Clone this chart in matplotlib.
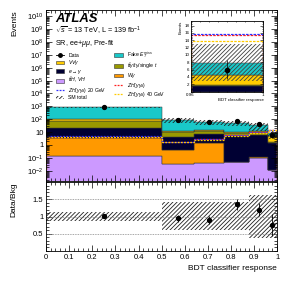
import numpy as np
import matplotlib
matplotlib.use('Agg')
import matplotlib.pyplot as plt
from matplotlib.patches import Patch
from matplotlib.lines import Line2D
from matplotlib.ticker import LogLocator, FuncFormatter, MultipleLocator, NullFormatter, FixedLocator

plt.rcParams['font.family'] = ['Liberation Sans', 'DejaVu Sans']
plt.rcParams['mathtext.fontset'] = 'custom'
plt.rcParams['mathtext.rm'] = 'Liberation Sans'
plt.rcParams['mathtext.it'] = 'Liberation Sans:italic'
plt.rcParams['mathtext.bf'] = 'Liberation Sans:bold'
plt.rcParams['hatch.linewidth'] = 0.6
plt.rcParams['axes.linewidth'] = 0.6

# binning and yields
edges = [0, 0.5, 0.64, 0.77, 0.88, 0.96, 1.0]
data = [840, 84, 56, 70, 39, 6]
data_err = [29, 9, 7.5, 8.5, 6.2, 2.5]

tth_vh = [0.15, 0.035, 0.039, 0.047, 0.09, 0.012]
wgam = [3.2, 0.38, 1.3, 0.002, 0.02, 0.0]
e_gam = [17.5, 4.0, 5.6, 4.8, 5.8, 1.5]
ttgam = [53, 6.2, 5.0, 4.0, 5.0, 0.3]
vvgam = [26, 2.0, 2.0, 1.7, 1.7, 2.8]
fake_met = [724, 76, 48, 41, 20, 3.3]

unc_up = [0.13, 0.42, 0.42, 0.42, 0.63, 0.63]
unc_dn = [0.13, 0.38, 0.38, 0.38, 0.63, 0.63]

sig_red = [4.5, 1.8, 2.7, 5.9, 10.0, 15.3]
sig_blue = [4.6, 1.85, 2.8, 6.0, 10.5, 15.8]
sig_yel = [4.2, 1.7, 2.5, 5.4, 9.2, 13.7]

stack = [
    (tth_vh, '#cc99ff', r'$t\bar{t}H$, $VH$'),
    (wgam, '#ff9900', r'$W\gamma$'),
    (e_gam, '#000033', r'$e\to\gamma$'),
    (ttgam, '#999900', r'$t\bar{t}\gamma$/$t\gamma$/single $t$'),
    (vvgam, '#ffcc00', r'$VV\gamma$'),
    (fake_met, '#19c8c8', r'Fake $E_{T}^{miss}$'),
]
signals = [
    (sig_red, '#ff2020', r'$ZH(\gamma\gamma_{d})$'),
    (sig_blue, '#3030ff', r'$ZH(\gamma\gamma_{d})$ 20 GeV'),
    (sig_yel, '#ffcc00', r'$ZH(\gamma\gamma_{d})$ 40 GeV'),
]

edges_a = np.array(edges)
centers = 0.5 * (edges_a[1:] + edges_a[:-1])
HATCH = '////////'
HCOL = '#202020'


def draw_stack(ax, idx, floor):
    bottom = np.zeros(len(idx))
    for vals, col, lab in stack:
        v = np.array(vals)[idx]
        top = bottom + v
        base = np.where(bottom > 0, bottom, floor)
        ax.stairs(top, edges_a[idx[0]:idx[-1] + 2], baseline=base, fill=True,
                  facecolor=col, edgecolor='#333333', linewidth=0.35)
        bottom = top
    return bottom


def style(ax, size=5.5):
    ax.tick_params(which='both', direction='in', top=True, right=True,
                   labelsize=size, width=0.5, pad=2)
    ax.tick_params(which='major', length=4)
    ax.tick_params(which='minor', length=2)


fig = plt.figure(figsize=(2.92, 2.81), dpi=100)
ax = fig.add_axes([0.158, 0.356, 0.791, 0.608])
rax = fig.add_axes([0.158, 0.107, 0.791, 0.245])

allbins = np.arange(len(data))
tot = draw_stack(ax, allbins, 1e-4)
up = tot * (1 + np.array(unc_up))
dn = tot * (1 - np.array(unc_dn))
ax.stairs(up, edges_a, baseline=dn, fill=True, facecolor='none',
          edgecolor=HCOL, hatch=HATCH, linewidth=0)
for vals, col, lab in signals:
    ax.stairs(vals, edges_a, color=col, linestyle=(0, (1.5, 1)), linewidth=0.9)
ax.errorbar(centers, data, yerr=data_err, fmt='o', color='k', markersize=2.8,
            elinewidth=0.6, capsize=0)

ax.set_yscale('log')
ax.set_ylim(1.6e-3, 3e10)
ax.set_xlim(0, 1)
ax.yaxis.set_major_locator(LogLocator(base=10, numticks=20))
ax.yaxis.set_minor_locator(LogLocator(base=10, subs=np.arange(2, 10), numticks=20))
ax.yaxis.set_minor_formatter(NullFormatter())


def logfmt(v, pos):
    n = int(round(np.log10(v)))
    if n == 0:
        return '1'
    if n == 1:
        return '10'
    return r'$10^{%d}$' % n


ax.yaxis.set_major_formatter(FuncFormatter(logfmt))
ax.xaxis.set_major_locator(MultipleLocator(0.1))
ax.xaxis.set_minor_locator(MultipleLocator(0.02))
ax.set_xticklabels([])
style(ax)
ax.set_ylabel('Events', fontsize=6, loc='top')
ax.yaxis.set_label_coords(-0.12, 1.0)

ax.text(0.04, 0.985, 'ATLAS', transform=ax.transAxes, fontsize=9.4,
        fontweight='bold', fontstyle='italic', va='top')
ax.text(0.04, 0.88, r'$\sqrt{s}$ = 13 TeV, L = 139 fb$^{-1}$', transform=ax.transAxes,
        fontsize=5.2, va='center')
ax.text(0.04, 0.805, r'SR, ee+$\mu\mu$, Pre-fit', transform=ax.transAxes,
        fontsize=5.2, va='center')

handles = {}
handles['data'] = Line2D([], [], marker='o', color='k', markersize=2.5, linestyle='-', linewidth=0.6)
for vals, col, lab in stack:
    handles[lab] = Patch(facecolor=col, edgecolor='#333333', linewidth=0.4)
for vals, col, lab in signals:
    handles[lab] = Line2D([], [], color=col, linestyle=(0, (1.5, 1)), linewidth=0.9)
handles['sm'] = Patch(facecolor='white', edgecolor=HCOL, hatch=HATCH, linewidth=0)

order = [('data', 'Data'), (stack[4][2], stack[4][2]), (stack[2][2], stack[2][2]),
         (stack[0][2], stack[0][2]), (signals[1][2], signals[1][2]), ('sm', 'SM total'),
         (stack[5][2], stack[5][2]), (stack[3][2], stack[3][2]), (stack[1][2], stack[1][2]),
         (signals[0][2], signals[0][2]), (signals[2][2], signals[2][2])]
ax.legend([handles[k] for k, l in order], [l for k, l in order], ncol=2,
          loc='upper left', bbox_to_anchor=(0.025, 0.79), fontsize=3.7, frameon=False,
          handlelength=1.7, handleheight=0.7, labelspacing=0.08, columnspacing=1.5,
          handletextpad=0.8, borderpad=0.2)

# inset: last bin in linear scale
iax = fig.add_axes([0.653, 0.674, 0.249, 0.252])
last = np.array([len(data) - 1])
itot = draw_stack(iax, last, 0)
iax.stairs(itot * (1 + np.array(unc_up)[last]), edges_a[-2:],
           baseline=itot * (1 - np.array(unc_dn)[last]), fill=True, facecolor='none',
           edgecolor='#404040', hatch=HATCH, linewidth=0)
for vals, col, lab in signals:
    iax.stairs(np.array(vals)[last], edges_a[-2:], color=col, linestyle=(0, (2, 1)), linewidth=0.9)
iax.errorbar(centers[last], np.array(data)[last], yerr=np.array(data_err)[last], fmt='o',
             color='k', markersize=3, elinewidth=0.5, capsize=0)
iax.set_xlim(0.96, 1.0)
iax.set_ylim(0, 19.3)
iax.xaxis.set_major_locator(FixedLocator([0.96, 1.0]))
iax.xaxis.set_minor_locator(MultipleLocator(0.005))
iax.set_xticklabels(['0.96', '1'])
iax.yaxis.set_major_locator(MultipleLocator(2))
iax.yaxis.set_minor_locator(MultipleLocator(0.5))
iax.yaxis.set_major_formatter(FuncFormatter(lambda v, p: '' if v == 0 else '%d' % v))
iax.tick_params(which='both', direction='in', top=True, right=True, labelsize=3.2,
                width=0.4, pad=1)
iax.tick_params(which='major', length=2)
iax.tick_params(which='minor', length=1)
iax.set_ylabel('Events', fontsize=3.2, loc='top', labelpad=1)
iax.set_xlabel('BDT classifier response', fontsize=3.2, loc='right', labelpad=1)

# ratio panel
ratio = np.array(data) / tot
ratio_err = np.array(data_err) / tot
rax.stairs(1 + np.array(unc_up), edges_a, baseline=1 - np.array(unc_dn), fill=True,
           facecolor='none', edgecolor=HCOL, hatch=HATCH, linewidth=0)
for yl in [0.5, 1.0, 1.5]:
    rax.axhline(yl, color='#888888', linestyle=(0, (1, 1)), linewidth=0.6)
rax.errorbar(centers, ratio, yerr=ratio_err, fmt='o', color='k', markersize=2.8,
             elinewidth=0.6, capsize=0)
rax.set_xlim(0, 1)
rax.set_ylim(0, 2)
rax.xaxis.set_major_locator(MultipleLocator(0.1))
rax.xaxis.set_minor_locator(MultipleLocator(0.02))
rax.xaxis.set_major_formatter(FuncFormatter(lambda v, p: '%g' % round(v, 1)))
rax.yaxis.set_major_locator(FixedLocator([0.5, 1.0, 1.5]))
rax.yaxis.set_minor_locator(MultipleLocator(0.1))
rax.yaxis.set_major_formatter(FuncFormatter(lambda v, p: '%g' % v))
style(rax)
rax.set_ylabel('Data/Bkg', fontsize=6, loc='top')
rax.yaxis.set_label_coords(-0.125, 1.0)
rax.set_xlabel('BDT classifier response', fontsize=6, loc='right', labelpad=3)

fig.savefig('out.png', dpi=100)
